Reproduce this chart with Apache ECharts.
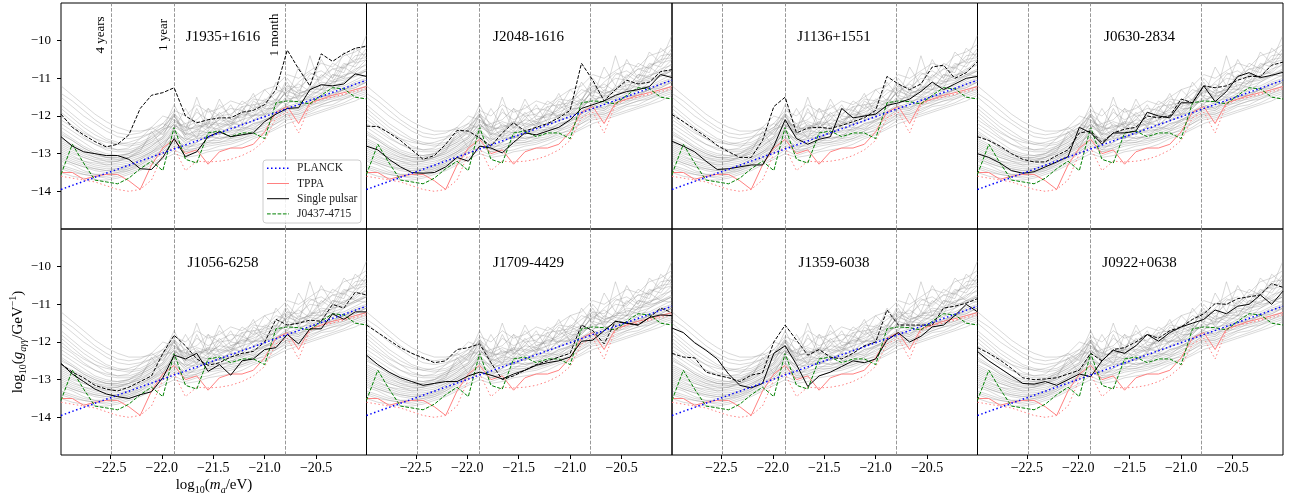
<!DOCTYPE html>
<html><head><meta charset="utf-8">
<script src="https://cdn.jsdelivr.net/npm/echarts@6/dist/echarts.min.js"></script>
<style>html,body{margin:0;padding:0;background:#fff}#c{width:1294px;height:498px}</style>
</head><body><div id="c"></div>
<script>
// ---------------- data ----------------
const MASS = [-22.98,-22.87,-22.76,-22.65,-22.54,-22.43,-22.32,-22.21,-22.10,-21.99,-21.88,-21.77,-21.66,-21.55,-21.44,-21.33,-21.22,-21.11,-21.00,-20.89,-20.78,-20.67,-20.56,-20.45,-20.34,-20.23,-20.12,-20.01];
const X_TICKS = [-22.5,-22.0,-21.5,-21.0,-20.5];
const Y_TICKS = [-14,-13,-12,-11,-10];
const MARKERS = [-22.49,-21.88,-20.80];
const MARKER_LABELS = ['4 years','1 year','1 month'];
const PULSARS = ['J1935+1616','J2048-1616','J1136+1551','J0630-2834','J1056-6258','J1709-4429','J1359-6038','J0922+0638'];

const PLANCK_X = [-22.98,-20.01];
const PLANCK_Y = [-13.95,-11.05];
const TPPA = [-13.5,-13.5,-13.68,-13.6,-13.55,-13.55,-13.72,-13.95,-13.3,-12.85,-12.62,-13.0,-12.9,-13.28,-12.95,-12.85,-12.85,-12.75,-12.42,-11.9,-11.75,-12.2,-11.65,-11.55,-11.45,-11.38,-11.3,-11.22];
const TPPA_DOTTED = [-13.6,-13.65,-13.7,-13.75,-13.85,-13.95,-14.0,-13.95,-13.7,-13.0,-12.85,-13.45,-13.2,-13.22,-13.2,-13.15,-13.05,-12.9,-12.65,-12.05,-11.9,-12.45,-11.7,-11.55,-11.5,-11.42,-11.35,-11.28];
const J0437 = [-13.55,-12.75,-13.25,-13.7,-13.75,-13.8,-13.65,-13.4,-13.2,-13.45,-12.3,-13.15,-13.25,-12.45,-12.4,-12.55,-12.45,-12.45,-12.6,-11.65,-11.6,-11.62,-11.68,-11.45,-11.25,-11.28,-11.5,-11.55];

const SINGLE = [
 [-12.55,-12.8,-12.95,-13.0,-13.05,-13.05,-13.15,-13.4,-13.42,-13.1,-12.6,-13.08,-12.95,-12.55,-12.42,-12.55,-12.5,-12.45,-12.15,-11.95,-11.8,-11.78,-11.3,-11.17,-11.2,-11.15,-10.88,-10.95],
 [-12.8,-12.9,-13.15,-13.35,-13.5,-13.52,-13.5,-13.35,-13.1,-13.2,-12.8,-12.85,-12.98,-12.7,-12.45,-12.5,-12.4,-12.3,-12.1,-11.8,-11.7,-11.6,-11.45,-11.35,-11.3,-11.22,-10.9,-10.98],
 [-12.67,-12.8,-12.95,-13.2,-13.42,-13.4,-13.35,-13.3,-13.3,-12.8,-12.1,-12.6,-12.75,-12.62,-12.55,-11.8,-12.05,-12.0,-11.95,-11.72,-11.65,-11.55,-11.35,-11.1,-11.3,-11.15,-11.0,-10.95],
 [-13.0,-13.1,-13.25,-13.45,-13.52,-13.48,-13.35,-13.22,-13.08,-12.3,-12.45,-12.75,-12.45,-12.45,-12.4,-11.9,-12.0,-12.05,-11.65,-11.65,-11.2,-11.62,-11.35,-10.95,-10.85,-10.98,-10.92,-10.84],
 [-12.57,-12.85,-13.05,-13.25,-13.38,-13.45,-13.5,-13.4,-13.32,-12.95,-12.35,-12.45,-12.3,-12.78,-12.6,-12.88,-12.5,-12.45,-12.2,-12.15,-11.8,-12.05,-11.65,-11.65,-11.25,-11.4,-11.2,-11.2],
 [-12.35,-12.6,-12.8,-12.95,-13.05,-13.15,-13.1,-13.05,-13.05,-12.9,-12.8,-12.88,-12.98,-12.85,-12.75,-12.62,-12.55,-12.5,-12.4,-11.98,-11.95,-11.7,-11.45,-11.5,-11.55,-11.35,-11.28,-11.3],
 [-11.63,-11.75,-12.02,-12.22,-12.45,-12.85,-13.15,-13.22,-13.1,-12.3,-12.1,-12.6,-13.18,-12.9,-12.8,-12.65,-12.5,-12.55,-12.45,-11.95,-11.75,-12.0,-11.85,-11.6,-11.55,-11.3,-11.0,-11.2],
 [-12.25,-12.5,-12.7,-12.9,-13.1,-13.12,-13.05,-13.15,-13.0,-12.85,-12.92,-12.5,-12.22,-12.3,-12.1,-11.8,-11.98,-11.75,-11.6,-11.5,-11.4,-11.15,-11.25,-11.05,-11.0,-10.75,-11.0,-10.65]
];
const DASHED = [
 [-11.95,-12.3,-12.5,-12.68,-12.82,-12.75,-12.5,-11.8,-11.45,-11.38,-11.25,-12.0,-12.18,-12.1,-12.05,-12.05,-11.9,-11.85,-11.7,-11.3,-10.25,-10.75,-11.2,-10.35,-10.55,-10.35,-10.2,-10.15],
 [-12.27,-12.28,-12.45,-12.65,-12.9,-13.15,-13.05,-12.75,-12.38,-12.4,-12.58,-12.8,-12.45,-12.18,-12.4,-12.3,-12.2,-12.05,-11.85,-10.6,-11.05,-11.6,-11.3,-11.05,-11.15,-11.1,-10.82,-10.77],
 [-11.96,-12.15,-12.35,-12.55,-12.78,-12.95,-13.1,-13.1,-12.65,-11.75,-11.5,-12.45,-12.32,-12.3,-12.33,-12.25,-12.15,-12.05,-11.85,-10.95,-11.15,-11.3,-11.15,-10.7,-10.65,-11.0,-10.85,-10.55],
 [-12.55,-12.65,-12.8,-13.0,-13.15,-13.22,-13.22,-13.05,-12.9,-12.45,-12.4,-12.7,-12.45,-12.35,-12.3,-12.0,-12.05,-12.0,-11.55,-11.65,-11.2,-11.25,-11.2,-11.05,-10.95,-10.95,-10.65,-10.57],
 [-12.58,-12.8,-12.95,-13.15,-13.25,-13.3,-13.2,-13.05,-12.9,-12.3,-11.82,-12.1,-12.45,-12.62,-12.55,-12.4,-12.3,-12.25,-12.0,-11.4,-11.55,-11.5,-11.42,-11.45,-11.0,-11.1,-10.68,-10.75],
 [-11.55,-11.75,-11.95,-12.15,-12.3,-12.42,-12.55,-12.5,-12.2,-12.15,-12.05,-12.55,-13.0,-12.9,-12.75,-12.6,-12.5,-12.4,-12.3,-11.55,-11.7,-12.05,-11.45,-11.5,-11.55,-11.35,-11.1,-11.22],
 [-12.3,-12.4,-12.42,-12.8,-12.88,-12.95,-13.05,-12.88,-12.82,-12.0,-11.55,-11.95,-12.35,-12.2,-12.4,-12.45,-12.3,-12.1,-12.0,-11.15,-11.55,-11.55,-11.55,-11.55,-11.1,-11.05,-10.97,-10.85],
 [-12.15,-12.3,-12.48,-12.7,-12.95,-13.0,-12.98,-12.95,-12.85,-12.75,-12.3,-12.5,-12.2,-12.15,-12.0,-11.8,-11.9,-11.7,-11.6,-11.4,-11.25,-10.98,-11.0,-10.85,-10.8,-10.75,-10.45,-10.55]
];
const GRAY = [
 [-11.2,-11.45,-11.7,-11.95,-12.15,-12.3,-12.4,-12.4,-12.35,-12.2,-11.85,-12.0,-11.7,-11.9,-11.8,-11.6,-11.7,-11.5,-11.3,-11.2,-10.9,-11.0,-10.8,-10.6,-10.7,-10.4,-10.3,-10.1],
 [-11.5,-11.75,-12.0,-12.2,-12.4,-12.55,-12.6,-12.55,-12.45,-12.3,-11.95,-12.2,-12.1,-11.8,-12.0,-11.95,-11.75,-11.7,-11.65,-11.4,-11.2,-11.25,-11.0,-11.05,-10.75,-10.7,-10.5,-10.45],
 [-11.8,-12.05,-12.3,-12.5,-12.65,-12.75,-12.8,-12.75,-12.6,-12.4,-12.1,-12.35,-12.3,-12.15,-12.2,-12.0,-12.05,-11.8,-11.7,-11.55,-11.2,-11.4,-11.3,-11.1,-11.15,-10.9,-10.85,-10.6],
 [-12.1,-12.3,-12.55,-12.75,-12.9,-12.95,-12.95,-12.85,-12.7,-12.55,-12.2,-12.5,-12.4,-12.45,-12.2,-12.25,-12.1,-12.0,-11.85,-11.75,-11.55,-11.5,-11.35,-11.4,-11.1,-11.0,-10.95,-10.8],
 [-12.3,-12.5,-12.7,-12.9,-13.0,-13.05,-13.0,-12.9,-12.75,-12.6,-12.3,-12.45,-12.55,-12.3,-12.35,-12.2,-12.25,-11.95,-12.0,-11.8,-11.5,-11.7,-11.45,-11.3,-11.35,-11.1,-10.9,-10.95],
 [-12.5,-12.65,-12.85,-13.0,-13.1,-13.15,-13.1,-13.0,-12.85,-12.65,-12.35,-12.65,-12.45,-12.5,-12.35,-12.4,-12.2,-12.15,-11.95,-11.9,-11.65,-11.6,-11.55,-11.4,-11.25,-11.2,-11.05,-10.9],
 [-12.65,-12.8,-12.95,-13.1,-13.2,-13.2,-13.15,-13.05,-12.9,-12.7,-12.5,-12.6,-12.65,-12.4,-12.5,-12.3,-12.3,-12.1,-12.05,-11.85,-11.75,-11.65,-11.5,-11.5,-11.3,-11.25,-11.1,-11.0],
 [-12.8,-12.95,-13.1,-13.2,-13.3,-13.3,-13.25,-13.1,-12.95,-12.8,-12.4,-12.75,-12.55,-12.6,-12.4,-12.45,-12.35,-12.2,-12.1,-11.95,-11.7,-11.8,-11.6,-11.45,-11.45,-11.3,-11.15,-11.05],
 [-12.9,-13.05,-13.2,-13.3,-13.35,-13.35,-13.3,-13.15,-13.0,-12.8,-12.55,-12.8,-12.7,-12.55,-12.6,-12.5,-12.4,-12.3,-12.15,-12.0,-11.85,-11.75,-11.7,-11.55,-11.5,-11.35,-11.25,-11.1],
 [-13.0,-13.15,-13.25,-13.35,-13.4,-13.4,-13.35,-13.2,-13.05,-12.9,-12.6,-12.85,-12.75,-12.7,-12.55,-12.6,-12.45,-12.35,-12.25,-12.05,-11.9,-11.85,-11.7,-11.65,-11.5,-11.45,-11.3,-11.2],
 [-13.1,-13.25,-13.35,-13.45,-13.5,-13.45,-13.4,-13.3,-13.1,-12.95,-12.7,-12.9,-12.85,-12.7,-12.7,-12.6,-12.55,-12.4,-12.3,-12.15,-11.95,-11.95,-11.8,-11.7,-11.6,-11.5,-11.4,-11.25],
 [-13.2,-13.3,-13.45,-13.55,-13.55,-13.5,-13.45,-13.35,-13.2,-13.0,-12.8,-12.95,-12.9,-12.8,-12.75,-12.7,-12.6,-12.5,-12.35,-12.2,-12.05,-12.0,-11.9,-11.75,-11.7,-11.55,-11.45,-11.35],
 [-13.35,-13.45,-13.55,-13.6,-13.65,-13.6,-13.5,-13.4,-13.25,-13.1,-12.9,-13.05,-12.95,-12.9,-12.8,-12.75,-12.65,-12.55,-12.45,-12.3,-12.1,-12.05,-11.95,-11.85,-11.75,-11.65,-11.5,-11.4],
 [-13.5,-13.6,-13.65,-13.7,-13.7,-13.65,-13.55,-13.45,-13.3,-13.15,-13.0,-13.1,-13.05,-12.95,-12.9,-12.85,-12.75,-12.6,-12.5,-12.35,-12.2,-12.1,-12.0,-11.9,-11.8,-11.7,-11.6,-11.45],
 [-12.2,-12.4,-12.6,-12.75,-12.85,-12.9,-12.85,-12.6,-12.3,-12.5,-12.0,-12.4,-11.5,-12.3,-12.1,-11.7,-12.2,-11.6,-11.8,-11.1,-11.5,-10.7,-11.2,-10.5,-11.0,-10.3,-10.6,-10.2],
 [-12.6,-12.75,-12.9,-13.05,-13.1,-13.1,-13.05,-12.95,-12.4,-12.85,-12.3,-12.2,-12.6,-11.8,-12.3,-12.2,-11.9,-11.4,-12.0,-11.7,-11.3,-11.5,-10.4,-11.3,-10.9,-11.0,-10.6,-10.5],
 [-12.0,-12.25,-12.45,-12.6,-12.7,-12.75,-12.7,-12.6,-12.45,-12.2,-12.35,-11.8,-12.3,-12.2,-11.7,-12.0,-11.6,-11.8,-11.3,-11.6,-11.0,-11.35,-10.9,-10.8,-11.0,-10.6,-10.7,-10.3],
 [-12.4,-12.6,-12.8,-12.95,-13.05,-13.05,-13.0,-12.85,-12.7,-12.4,-11.9,-12.5,-12.2,-12.4,-12.0,-12.3,-11.85,-12.0,-11.6,-11.75,-11.25,-11.4,-11.3,-10.9,-11.1,-10.65,-10.55,-9.85],
 [-11.4,-11.6,-11.85,-12.1,-12.3,-12.45,-12.5,-12.45,-12.3,-12.0,-12.1,-12.3,-11.9,-12.1,-11.95,-11.8,-11.85,-11.55,-11.6,-11.3,-11.4,-11.1,-10.85,-11.0,-10.6,-10.75,-10.4,-10.35],
 [-13.3,-13.4,-13.5,-13.55,-13.55,-13.5,-13.4,-13.25,-13.0,-12.85,-12.55,-12.9,-12.7,-12.5,-12.6,-12.55,-12.3,-12.35,-12.1,-12.05,-11.8,-11.85,-11.6,-11.5,-11.45,-11.3,-11.2,-11.1],
 [-12.7,-12.85,-13.0,-13.1,-13.15,-13.15,-13.1,-12.95,-12.8,-12.6,-12.2,-12.55,-12.35,-12.45,-12.3,-12.15,-12.25,-12.0,-11.95,-11.7,-11.6,-11.45,-11.5,-11.3,-11.2,-11.1,-10.95,-10.8],
 [-12.95,-13.1,-13.2,-13.25,-13.3,-13.25,-13.2,-13.1,-12.95,-12.75,-12.45,-12.7,-12.6,-12.6,-12.45,-12.4,-12.35,-12.25,-12.1,-11.95,-11.8,-11.7,-11.65,-11.5,-11.4,-11.3,-11.15,-11.05],
 [-11.9,-12.15,-12.4,-12.6,-12.8,-12.9,-12.9,-12.8,-12.65,-12.45,-12.15,-12.3,-12.35,-12.2,-12.25,-12.1,-12.0,-11.9,-11.75,-11.65,-11.35,-11.45,-11.25,-11.2,-11.05,-10.95,-10.75,-10.65],
 [-13.15,-13.25,-13.35,-13.4,-13.45,-13.45,-13.35,-13.25,-13.1,-12.9,-12.65,-12.8,-12.8,-12.65,-12.65,-12.5,-12.5,-12.4,-12.2,-12.1,-11.95,-11.9,-11.75,-11.6,-11.55,-11.45,-11.35,-11.2],
 [-12.85,-13.0,-13.1,-13.2,-13.25,-13.2,-13.1,-12.9,-12.5,-12.3,-12.0,-12.5,-11.8,-12.35,-11.9,-12.2,-12.1,-11.7,-11.95,-11.6,-11.1,-11.6,-11.2,-11.3,-10.9,-10.95,-10.8,-10.5],
 [-13.4,-13.5,-13.55,-13.6,-13.6,-13.55,-13.45,-13.3,-13.15,-12.95,-12.75,-12.95,-12.85,-12.75,-12.7,-12.65,-12.6,-12.45,-12.4,-12.2,-12.0,-11.95,-11.85,-11.7,-11.6,-11.55,-11.4,-11.3],
 [-12.45,-12.65,-12.85,-13.0,-13.1,-13.1,-13.0,-12.8,-12.6,-12.35,-11.7,-12.3,-12.15,-12.25,-11.55,-12.1,-11.95,-11.85,-11.55,-11.65,-11.35,-11.15,-11.35,-10.95,-10.75,-10.85,-10.2,-10.45],
 [-13.05,-13.2,-13.3,-13.4,-13.45,-13.4,-13.3,-13.15,-12.95,-12.7,-12.4,-12.65,-12.5,-12.55,-12.45,-12.3,-12.4,-12.2,-12.15,-11.9,-11.75,-11.8,-11.55,-11.6,-11.4,-11.3,-11.25,-11.1],
 [-11.7,-11.95,-12.2,-12.4,-12.6,-12.7,-12.75,-12.7,-12.55,-12.35,-12.25,-12.4,-12.25,-12.3,-12.1,-12.15,-11.95,-12.0,-11.8,-11.8,-11.45,-11.55,-11.3,-11.3,-11.1,-11.05,-10.9,-10.8],
 [-12.75,-12.9,-13.05,-13.15,-13.2,-13.2,-13.1,-13.0,-12.8,-12.55,-11.95,-12.6,-12.4,-12.15,-12.5,-12.25,-11.75,-12.1,-11.9,-11.55,-11.7,-11.3,-11.45,-11.15,-11.25,-10.7,-10.9,-10.75]
];

// ---------------- layout / style ----------------
const COLS = [61, 366.5, 672, 977.5], ROWS = [3, 229], PW = 305.5, PH = 226;
const XMIN = -22.98, XMAX = -20.01, YMIN = -15, YMAX = -9;
const FONT = '"Liberation Serif","DejaVu Serif",serif';
const DASH = [3.7, 1.6], DOT = [1.5, 2.5];
const RED = '#ff8080';
const neg = s => s.replace('-', '\u2212');
const pair = ys => MASS.map((x, j) => [x, ys[j]]);

const grids = [], xAxes = [], yAxes = [], series = [];
for (let i = 0; i < 8; i++) {
  const r = Math.floor(i / 4), c = i % 4;
  grids.push({left: COLS[c], top: ROWS[r], width: PW, height: PH, show: true,
    borderColor: '#000', borderWidth: 1, backgroundColor: 'transparent', containLabel: false});
  xAxes.push({gridIndex: i, type: 'value', min: XMIN, max: XMAX, splitLine: {show: false},
    axisLine: {show: false},
    axisTick: {show: r === 1, customValues: X_TICKS, length: 4, lineStyle: {color: '#000'}},
    axisLabel: {show: r === 1, customValues: X_TICKS, margin: 6, color: '#000', fontSize: 14, fontFamily: FONT,
      formatter: v => neg(v.toFixed(1))}});
  yAxes.push({gridIndex: i, type: 'value', min: YMIN, max: YMAX, interval: 1, splitLine: {show: false},
    axisLine: {show: false},
    axisTick: {show: c === 0, customValues: Y_TICKS, length: 4, lineStyle: {color: '#000'}},
    axisLabel: {show: c === 0, customValues: Y_TICKS, margin: 10, color: '#000', fontSize: 13, fontFamily: FONT,
      formatter: v => neg(String(v))}});
  const base = {type: 'line', xAxisIndex: i, yAxisIndex: i, symbol: 'none', silent: true, animation: false};
  GRAY.forEach(g => series.push(Object.assign({}, base, {data: pair(g), z: 1,
    lineStyle: {color: 'rgba(140,140,140,0.42)', width: 0.8}})));
  series.push(Object.assign({}, base, {data: [], z: 2,
    markLine: {silent: true, symbol: ['none', 'none'], label: {show: false}, animation: false,
      lineStyle: {color: '#8c8c8c', type: DASH, width: 0.9}, data: MARKERS.map(x => ({xAxis: x}))}}));
  series.push(Object.assign({}, base, {name: 'TPPA', data: pair(TPPA), z: 3, lineStyle: {color: RED, width: 1}}));
  series.push(Object.assign({}, base, {data: pair(TPPA_DOTTED), z: 3, lineStyle: {color: RED, width: 1, type: DOT}}));
  series.push(Object.assign({}, base, {name: 'J0437-4715', data: pair(J0437), z: 4, lineStyle: {color: '#008000', width: 1, type: DASH}}));
  series.push(Object.assign({}, base, {data: pair(DASHED[i]), z: 5, lineStyle: {color: '#000', width: 1, type: DASH}}));
  series.push(Object.assign({}, base, {name: 'Single pulsar', data: pair(SINGLE[i]), z: 5, lineStyle: {color: '#000', width: 1}}));
  series.push(Object.assign({}, base, {name: 'PLANCK', data: PLANCK_X.map((x, j) => [x, PLANCK_Y[j]]), z: 6,
    lineStyle: {color: '#0000ff', width: 1.5, type: DOT}}));
}

const chart = echarts.init(document.getElementById('c'));
chart.setOption({animation: false, grid: grids, xAxis: xAxes, yAxis: yAxes, series: series});

// ---------------- texts, legend ----------------
const graphics = [];
PULSARS.forEach((p, i) => {
  const r = Math.floor(i / 4), c = i % 4;
  graphics.push({type: 'text', x: COLS[c] + 162, y: ROWS[r] + 34, z: 50,
    style: {text: p, font: '15px ' + FONT, fill: '#000', align: 'center', verticalAlign: 'middle'}});
});
MARKERS.forEach((m, k) => {
  const px = chart.convertToPixel({gridIndex: 0}, [m, -9])[0];
  graphics.push({type: 'text', x: px - 10.5, y: 35, rotation: Math.PI / 2, z: 50,
    style: {text: MARKER_LABELS[k], font: '13px ' + FONT, fill: '#000', align: 'center', verticalAlign: 'middle'}});
});
const LEG_ITEMS = [
  {t: 'PLANCK', c: '#0000ff', d: DOT, w: 1.5},
  {t: 'TPPA', c: RED, d: null, w: 1},
  {t: 'Single pulsar', c: '#000', d: null, w: 1},
  {t: 'J0437-4715', c: '#008000', d: DASH, w: 1}
];
graphics.push({type: 'rect', shape: {x: 263, y: 160, width: 98, height: 63, r: 3}, z: 40,
  style: {fill: 'rgba(255,255,255,0.85)', stroke: '#cccccc', lineWidth: 1}});
LEG_ITEMS.forEach((it, k) => {
  const y = 168.3 + k * 15.2;
  graphics.push({type: 'line', shape: {x1: 267, y1: y, x2: 289, y2: y}, z: 41,
    style: {stroke: it.c, lineWidth: it.w, lineDash: it.d}});
  graphics.push({type: 'text', x: 297, y: y, z: 41,
    style: {text: it.t, font: '11.5px ' + FONT, fill: '#222', align: 'left', verticalAlign: 'middle'}});
});
const RICH = {
  n: {fontSize: 15, fontFamily: FONT, lineHeight: 20, verticalAlign: 'middle', fill: '#000'},
  i: {fontSize: 15, fontFamily: FONT, fontStyle: 'italic', lineHeight: 20, verticalAlign: 'middle', fill: '#000'},
  s: {fontSize: 10, fontFamily: FONT, lineHeight: 10, verticalAlign: 'bottom', fill: '#000'},
  si: {fontSize: 10, fontFamily: FONT, fontStyle: 'italic', lineHeight: 10, verticalAlign: 'bottom', fill: '#000'},
  p: {fontSize: 10, fontFamily: FONT, lineHeight: 10, verticalAlign: 'top', fill: '#000'}
};
graphics.push({type: 'text', x: 18, y: 342, rotation: Math.PI / 2, z: 50,
  style: {text: '{n|log}{s|10}{n|(}{i|g}{si|aγγ}{n|/GeV}{p|\u22121}{n|)}', rich: RICH, align: 'center', verticalAlign: 'middle'}});
graphics.push({type: 'text', x: 214, y: 485, z: 50,
  style: {text: '{n|log}{s|10}{n|(}{i|m}{si|a}{n|/eV)}', rich: RICH, align: 'center', verticalAlign: 'middle'}});
chart.setOption({graphic: graphics});
</script>
</body></html>
